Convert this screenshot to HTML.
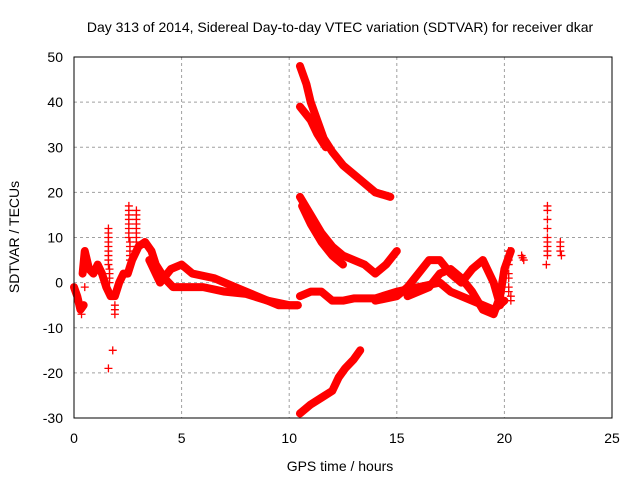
<!DOCTYPE html>
<html><head><meta charset="utf-8"><style>
body{margin:0;background:#fff;}
svg text{font-family:"Liberation Sans",sans-serif;font-size:14px;fill:#000;}
</style></head><body>
<svg width="640" height="480" xmlns="http://www.w3.org/2000/svg">
<text x="340" y="32" text-anchor="middle">Day 313 of 2014, Sidereal Day-to-day VTEC variation (SDTVAR) for receiver dkar</text>
<text x="340" y="471" text-anchor="middle">GPS time / hours</text>
<text transform="translate(19,237) rotate(-90)" text-anchor="middle">SDTVAR / TECUs</text>
<g id="grid"></g><g id="marks"></g>
<rect x="74" y="57" width="538" height="361" fill="none" stroke="#000" stroke-width="1"/>
</svg>
<script>
const xTicks=[0,5,10,15,20,25];
const yTicks=[-30,-20,-10,0,10,20,30,40,50];
const T1=[[0,-1],[0.15,-3],[0.3,-6],[0.45,-5]];
const T2=[[0.4,2],[0.5,7],[0.7,3],[0.9,2],[1.1,4],[1.3,2],[1.5,-1],[1.7,-3],[1.9,-3],[2.1,0],[2.3,2],[2.5,2],[2.7,5],[3.0,8],[3.3,9],[3.6,7],[3.8,4],[4.2,1],[4.6,-1],[5.2,-1],[6,-1],[7,-2],[8,-2.5],[9,-4],[10,-5],[10.4,-5]];
const T3=[[3.5,5],[3.8,2],[4.0,0],[4.5,3],[5.0,4],[5.5,2],[6.5,1],[7.5,-1],[8.5,-3],[9.5,-5],[10.4,-5]];
const T4=[[10.5,-3],[11,-2],[11.5,-2],[12,-4],[12.5,-4],[13,-3.5],[14,-3.5],[15,-2],[16,-1],[17,0],[17.5,-2],[18.5,-4],[19.5,-6],[20,-4]];
const T5=[[14,-4],[15,-3],[15.5,-1],[16,2],[16.5,5],[17,5],[17.5,2],[18,0],[18.5,3],[19,5],[19.5,0],[19.8,-5]];
const T6=[[15.5,-3],[16.5,-1],[17,2],[17.5,3],[18,1],[18.5,-2],[19,-6],[19.5,-7],[19.8,-3],[20,3],[20.3,7]];
const D1=[[10.5,48],[10.8,44],[11,40],[11.3,36],[11.6,32],[12,29],[12.5,26],[13,24],[13.5,22],[14,20],[14.7,19]];
const D2=[[10.5,39],[11,36],[11.3,33],[11.7,30]];
const D3=[[10.5,19],[11,15],[11.5,11],[12,8],[12.5,6],[13,5],[13.5,4],[14,2],[14.5,4],[15,7]];
const D4=[[10.6,17],[11,13],[11.5,9],[12,6],[12.5,4]];
const U1=[[10.5,-29],[11,-27],[11.5,-25.5],[12,-24],[12.3,-21],[12.6,-19],[13,-17],[13.3,-15]];
const points=[[1.6,12],[1.6,11],[1.6,10],[1.6,9],[1.6,8],[1.6,7],[1.6,6],[1.6,5],[1.6,4],[1.65,3],[1.65,2],[1.65,1],[1.65,0],[2.55,17],[2.55,16],[2.55,15],[2.55,14],[2.55,13],[2.55,12],[2.55,11],[2.55,10],[2.6,9],[2.6,8],[2.6,7],[2.6,6],[2.6,5],[2.9,16],[2.9,15],[2.9,14],[2.9,13],[2.9,12],[2.9,11],[2.9,10],[2.9,9],[2.9,8],[2.9,7],[1.6,-19],[1.8,-15],[0.35,-7],[0.5,-1],[1.9,-5],[1.9,-7],[1.9,-6],
[20.2,7],[20.2,5],[20.2,4],[20.2,2],[20.2,1],[20.2,-1],[20.2,-2],[20.3,-4],[20.3,-3],[20.8,6],[20.9,5],[20.85,5.5],[22,17],[22,16],[22,14],[22,12],[22,10],[22,9],[22,8],[22,7],[22,6],[21.95,4],[22.6,9],[22.6,8],[22.6,7],[22.65,6]];
const X=h=>74+h*538/25, Y=v=>57+(50-v)*361/80;
const NS="http://www.w3.org/2000/svg";
const grid=document.getElementById('grid'), marks=document.getElementById('marks');
function mk(t,a,p){const e=document.createElementNS(NS,t);for(const k in a)e.setAttribute(k,a[k]);p.appendChild(e);return e;}
xTicks.forEach(t=>{
 if(t>0&&t<25){const l=mk('line',{x1:X(t),x2:X(t),y1:57,y2:418,stroke:'#a0a0a0','stroke-dasharray':'3,3'},grid);
 
 }
 const tx=mk('text',{x:X(t),y:443,'text-anchor':'middle'},grid);tx.textContent=t;
 
 
});
yTicks.forEach(t=>{
 if(t>-30&&t<50){const l=mk('line',{x1:74,x2:612,y1:Y(t),y2:Y(t),stroke:'#a0a0a0','stroke-dasharray':'3,3'},grid);
 
 }
 const tx=mk('text',{x:63,y:Y(t)+5,'text-anchor':'end'},grid);tx.textContent=t;
 
 
});
[T1,T2,T3,T4,T5,T6,D1,D2,D3,D4,U1].forEach(s=>{
 const p=mk('polyline',{points:s.map(d=>X(d[0])+','+Y(d[1])).join(' '),fill:'none',stroke:'#ff0000','stroke-width':8,'stroke-linejoin':'round','stroke-linecap':'round'},marks);
 
 
});
points.forEach(d=>{
 const x=X(d[0]),y=Y(d[1]);
 const p=mk('path',{d:`M${x-4},${y}H${x+4}M${x},${y-4}V${y+4}`,stroke:'#ff0000','stroke-width':1.3},marks);
 
 
});
</script>
</body></html>
